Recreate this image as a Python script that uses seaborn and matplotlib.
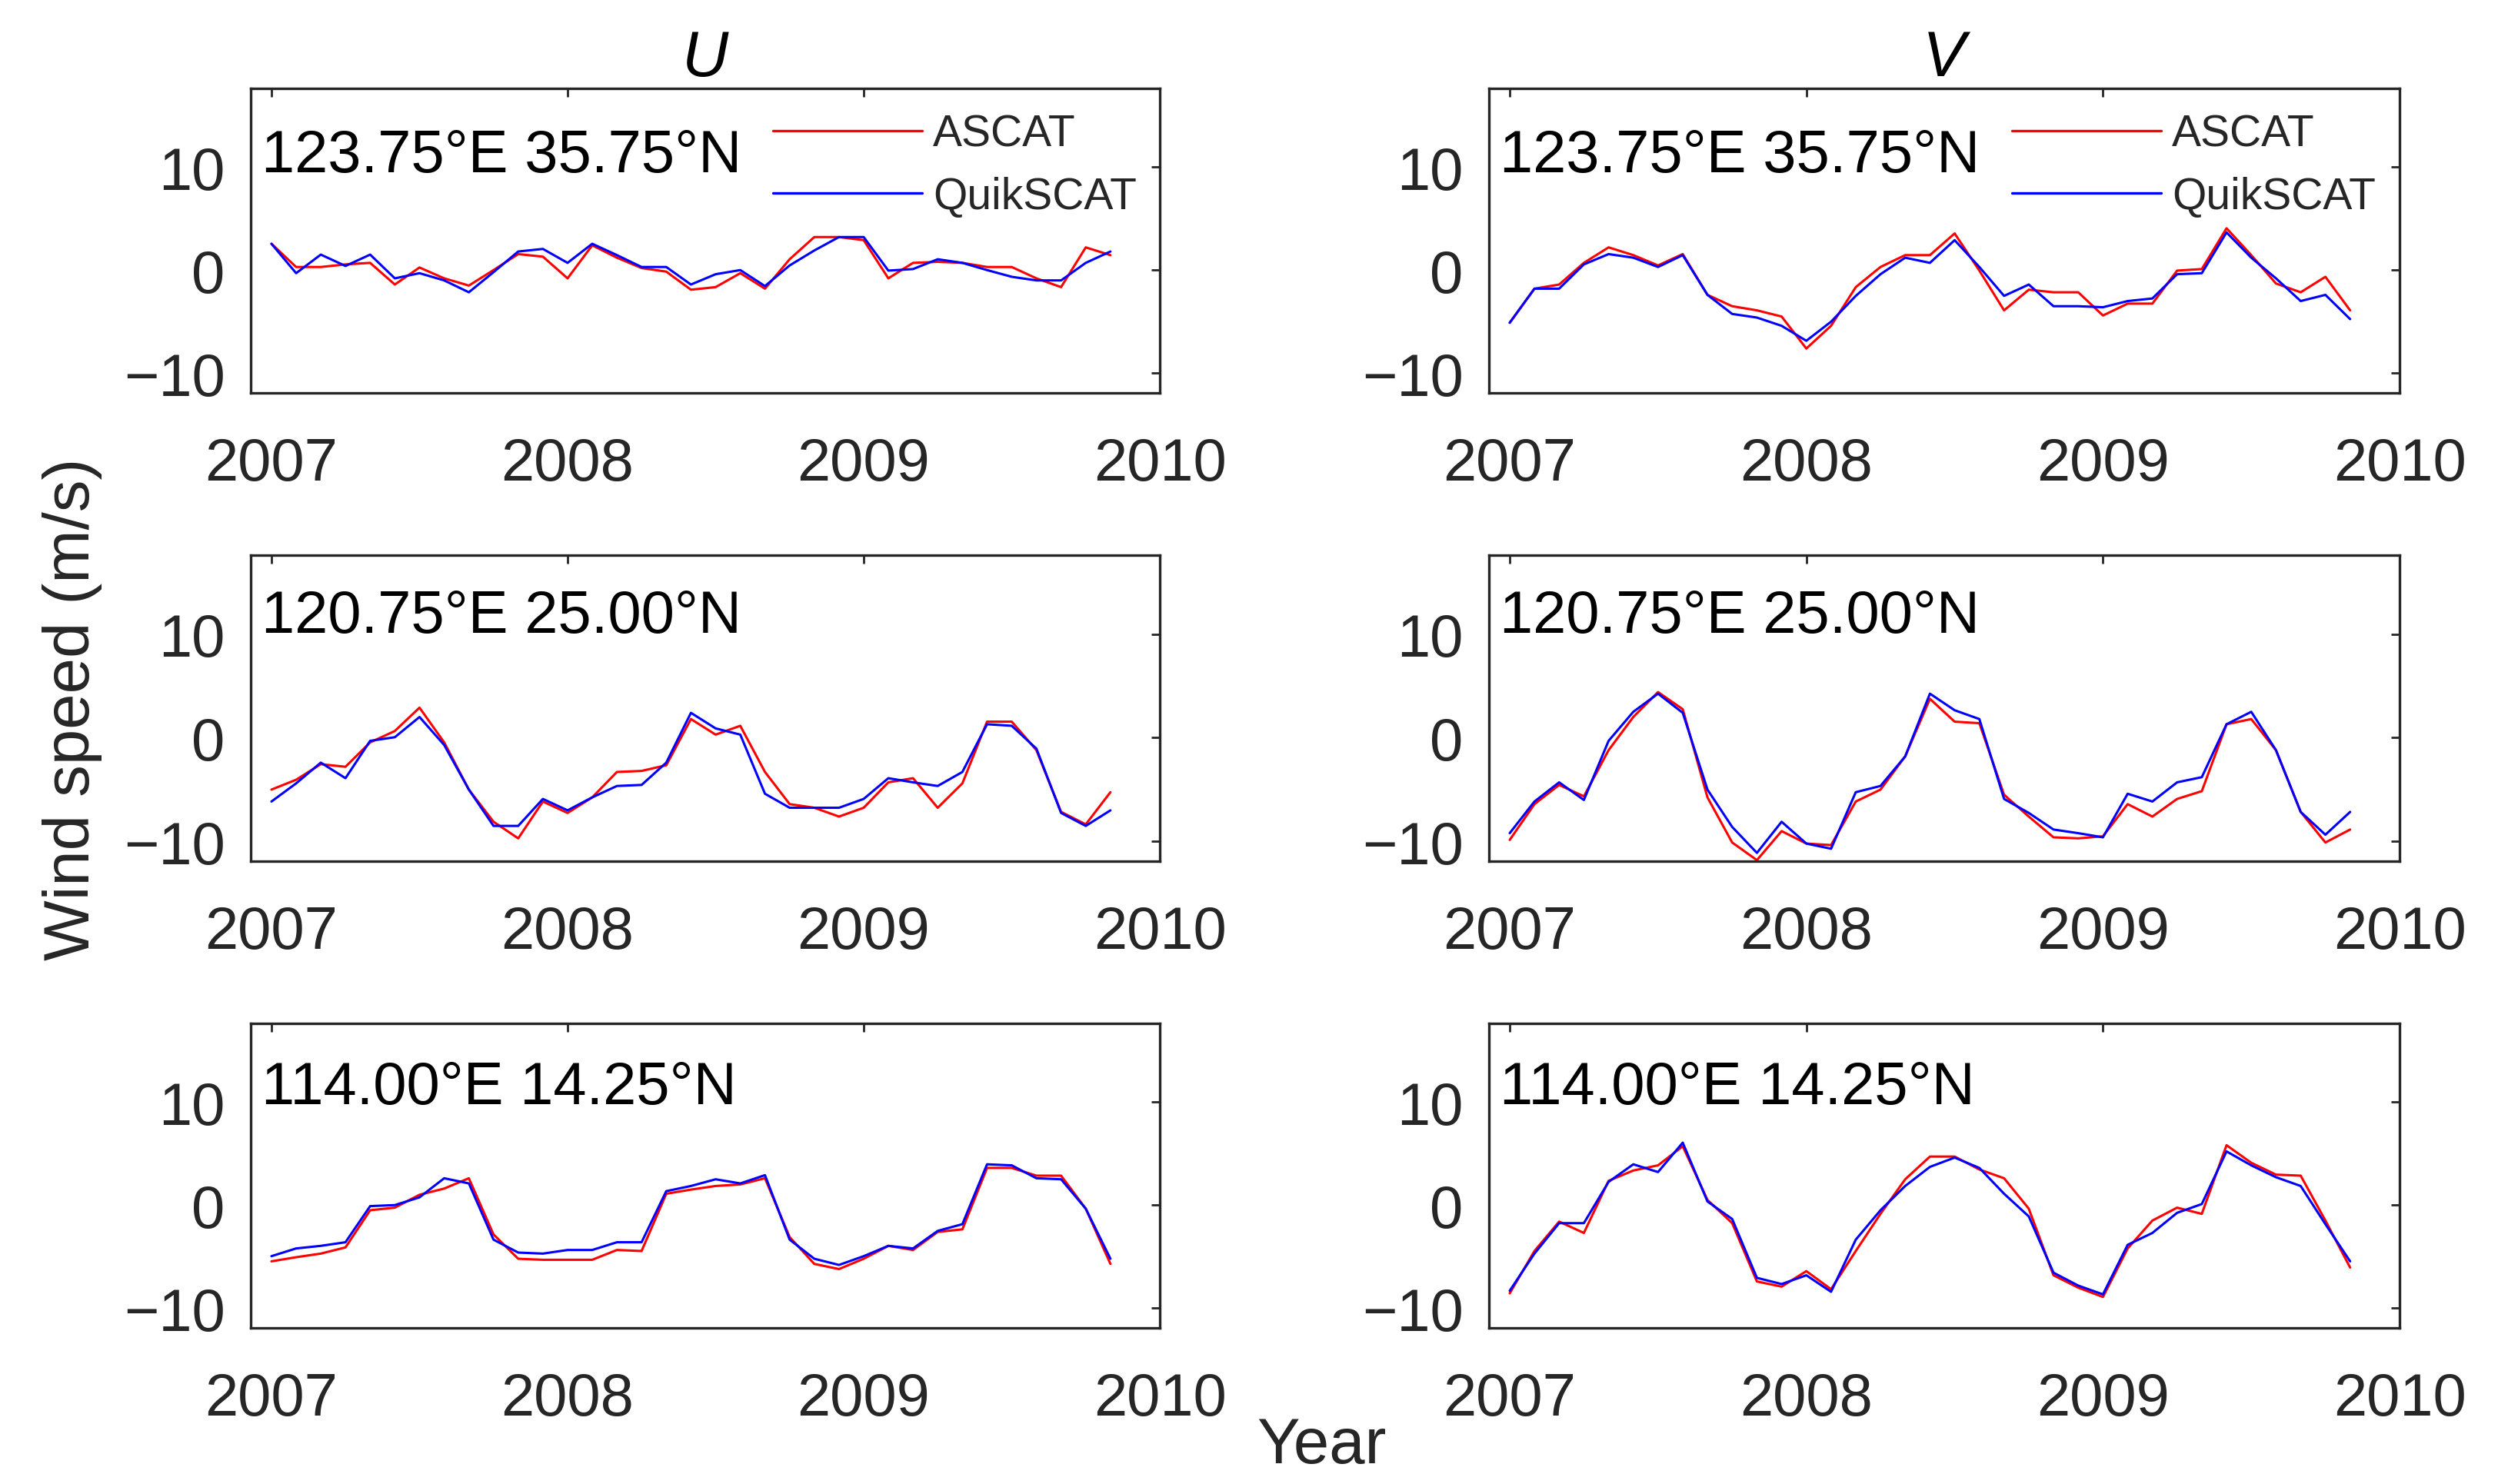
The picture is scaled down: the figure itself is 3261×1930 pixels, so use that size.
import numpy as np
import pandas as pd
import matplotlib
matplotlib.use("Agg")
import matplotlib.pyplot as plt
import seaborn as sns

# ---------------- data ----------------
sources = ["ASCAT", "QuikSCAT"]
colors = ["#ff0000", "#0000ff"]
n_months = 35  # Jan 2007 .. Nov 2009
year_ticks = [2007, 2008, 2009, 2010]
y_ticks = [-10, 0, 10]
column_titles = ["U", "V"]
locations = ["123.75°E 35.75°N", "120.75°E 25.00°N", "114.00°E 14.25°N"]

u1_ascat = [2.55, 0.3, 0.3, 0.55, 0.7, -1.4, 0.25, -0.8, -1.5, 0.0, 1.55, 1.3, -0.8, 2.4, 1.2, 0.2, -0.15,
            -1.9, -1.65, -0.3, -1.8, 1.05, 3.2, 3.2, 2.9, -0.8, 0.7, 0.8, 0.7, 0.3, 0.3, -0.8, -1.65, 2.2, 1.45]
u1_quik = [2.55, -0.3, 1.5, 0.4, 1.5, -0.8, -0.3, -1.0, -2.15, -0.2, 1.8, 2.05, 0.7, 2.55, 1.45, 0.3, 0.3,
           -1.4, -0.4, 0.0, -1.55, 0.45, 1.9, 3.2, 3.2, -0.05, 0.1, 1.05, 0.7, 0.0, -0.65, -1.0, -1.0, 0.7, 1.8]

v1_ascat = [-5.1, -1.8, -1.4, 0.7, 2.2, 1.45, 0.45, 1.55, -2.4, -3.5, -3.9, -4.5, -7.6, -5.4, -1.65, 0.3, 1.45,
            1.45, 3.55, -0.05, -3.9, -1.9, -2.15, -2.15, -4.4, -3.25, -3.25, -0.05, 0.1, 4.05, 1.45, -1.3, -2.15,
            -0.65, -3.9]
v1_quik = [-5.1, -1.8, -1.8, 0.55, 1.55, 1.2, 0.3, 1.45, -2.4, -4.25, -4.6, -5.4, -6.85, -5.0, -2.5, -0.4, 1.2,
           0.7, 2.9, 0.3, -2.5, -1.4, -3.5, -3.5, -3.6, -3.0, -2.75, -0.4, -0.3, 3.65, 1.2, -0.8, -3.0, -2.4, -4.75]

u2_ascat = [-5.0, -4.05, -2.55, -2.8, -0.45, 0.65, 2.9, -0.45, -5.0, -8.1, -9.7, -6.15, -7.25, -5.75, -3.3, -3.2,
            -2.65, 1.8, 0.3, 1.15, -3.3, -6.4, -6.75, -7.6, -6.75, -4.3, -3.9, -6.75, -4.4, 1.55, 1.55, -1.2,
            -7.15, -8.35, -5.25]
u2_quik = [-6.15, -4.4, -2.4, -3.9, -0.3, 0.05, 2.0, -0.7, -5.0, -8.5, -8.5, -5.9, -7.0, -5.75, -4.65, -4.55,
           -2.4, 2.4, 0.9, 0.3, -5.4, -6.75, -6.75, -6.75, -5.9, -3.9, -4.3, -4.65, -3.3, 1.3, 1.15, -1.05,
           -7.25, -8.5, -7.0]

v2_ascat = [-9.85, -6.4, -4.55, -5.65, -1.2, 2.0, 4.4, 2.75, -5.75, -10.1, -11.8, -9.0, -10.2, -10.35, -6.15,
            -5.0, -1.8, 3.75, 1.55, 1.4, -5.5, -7.6, -9.6, -9.7, -9.5, -6.4, -7.6, -5.9, -5.15, 1.3, 1.8, -1.2,
            -7.15, -10.1, -8.85]
v2_quik = [-9.2, -6.15, -4.3, -6.0, -0.3, 2.5, 4.25, 2.4, -5.0, -8.6, -11.1, -8.1, -10.2, -10.7, -5.25, -4.65,
           -1.8, 4.25, 2.65, 1.8, -5.9, -7.25, -8.85, -9.2, -9.6, -5.4, -6.15, -4.3, -3.8, 1.3, 2.5, -1.2,
           -7.15, -9.35, -7.15]

u3_ascat = [-5.45, -5.05, -4.7, -4.1, -0.5, -0.25, 1.0, 1.6, 2.6, -2.85, -5.2, -5.3, -5.3, -5.3, -4.35, -4.45,
            1.1, 1.5, 1.85, 2.0, 2.6, -3.1, -5.7, -6.2, -5.2, -3.95, -4.35, -2.6, -2.35, 3.6, 3.6, 2.85, 2.85,
            -0.35, -5.7]
u3_quik = [-4.95, -4.2, -3.95, -3.6, -0.1, 0.0, 0.75, 2.6, 2.1, -3.35, -4.6, -4.7, -4.35, -4.35, -3.6, -3.6,
           1.35, 1.85, 2.5, 2.1, 2.9, -3.35, -5.2, -5.8, -4.95, -3.95, -4.2, -2.5, -1.85, 3.95, 3.85, 2.6, 2.5,
           -0.35, -5.2]

v3_ascat = [-8.55, -4.45, -1.6, -2.7, 2.35, 3.35, 3.85, 5.7, 0.5, -1.75, -7.4, -7.9, -6.4, -8.15, -4.45, -0.85,
            2.5, 4.7, 4.7, 3.45, 2.6, -0.35, -6.8, -8.0, -8.9, -4.2, -1.5, -0.25, -0.85, 5.8, 4.1, 2.95, 2.85,
            -1.5, -6.05]
v3_quik = [-8.3, -4.7, -1.75, -1.75, 2.25, 3.95, 3.2, 6.05, 0.35, -1.35, -7.05, -7.65, -6.8, -8.4, -3.35, -0.5,
           1.85, 3.7, 4.6, 3.6, 1.1, -1.1, -6.55, -7.8, -8.65, -3.85, -2.7, -0.75, 0.1, 5.2, 3.85, 2.7, 1.85,
           -1.85, -5.45]

panels = [
    [(u1_ascat, u1_quik), (v1_ascat, v1_quik)],
    [(u2_ascat, u2_quik), (v2_ascat, v2_quik)],
    [(u3_ascat, u3_quik), (v3_ascat, v3_quik)],
]

time = 2007 + np.arange(n_months) / 12.0

# ---------------- style ----------------
sns.set_style("white")
plt.rcParams["font.family"] = ["Liberation Sans", "DejaVu Sans"]
plt.rcParams["axes.unicode_minus"] = True
axis_color = "#262626"

W, H = 3262, 1931
fig = plt.figure(figsize=(W / 100, H / 100), dpi=100)

col_left = [326, 1936]
col_width = [1182, 1184]
row_top = [116, 723, 1332]
row_height = [396, 398, 396]
ann_y = [0.727, 0.749, 0.737]

TICK_FS = 56
LABEL_FS = 60

for r in range(3):
    for c in range(2):
        x0 = col_left[c] / W
        y0 = 1 - (row_top[r] + row_height[r]) / H
        ax = fig.add_axes([x0, y0, col_width[c] / W, row_height[r] / H])
        a_vals, q_vals = panels[r][c]
        df = pd.DataFrame({
            "time": np.concatenate([time, time]),
            "speed": np.concatenate([a_vals, q_vals]),
            "source": [sources[0]] * n_months + [sources[1]] * n_months,
        })
        sns.lineplot(data=df, x="time", y="speed", hue="source", hue_order=sources,
                     palette=colors, linewidth=2.2, legend=False, ax=ax)
        ax.set_xlim(2006.93, 2010.0)
        ax.set_ylim(-11.9, 17.6)
        ax.set_xticks(year_ticks)
        ax.set_xticklabels([str(t) for t in year_ticks])
        ax.set_yticks(y_ticks)
        ax.set_xlabel("")
        ax.set_ylabel("")
        for s in ax.spines.values():
            s.set_visible(True)
            s.set_linewidth(2.4)
            s.set_color(axis_color)
        ax.tick_params(axis="both", direction="in", length=8, width=2, color=axis_color,
                       labelcolor=axis_color, labelsize=TICK_FS, top=True, right=True)
        ax.tick_params(axis="x", pad=40)
        ax.tick_params(axis="y", pad=24)
        ax.text(0.012, ann_y[r], locations[r], transform=ax.transAxes, ha="left", va="baseline",
                fontsize=TICK_FS, color="black")
        if r == 0:
            ax.set_title(column_titles[c], fontsize=LABEL_FS, fontstyle="italic", pad=12, color="black")
            leg = ax.legend(handles=ax.lines[:2], labels=sources, loc="upper left",
                            bbox_to_anchor=(0.56, 0.96), frameon=False, fontsize=41,
                            handlelength=3.4, handletextpad=0.25, labelspacing=0.47, borderpad=0.3,
                            borderaxespad=0.0)
            for ln in leg.get_lines():
                ln.set_linewidth(2.4)
        if r == 1 and c == 0:
            ax.set_ylabel("Wind speed (m/s)", fontsize=LABEL_FS, labelpad=20, color=axis_color)

fig.text(1718 / W, 1 - 1903 / H, "Year", ha="center", va="baseline", fontsize=LABEL_FS, color=axis_color)

fig.savefig("out.png", dpi=100)
